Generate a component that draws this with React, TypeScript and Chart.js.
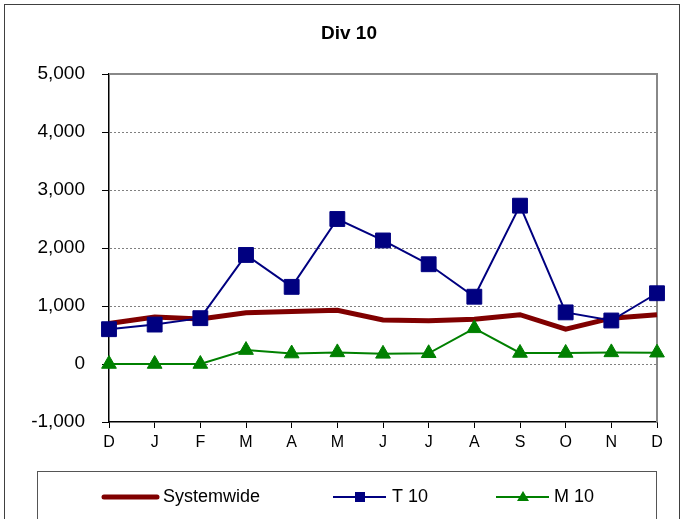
import React, { useEffect, useRef } from "react";
import { Chart, registerables } from "chart.js";

Chart.register(...registerables);

const title = "Div 10";
const months = ["D", "J", "F", "M", "A", "M", "J", "J", "A", "S", "O", "N", "D"];
const systemwide = [700, 810, 775, 885, 905, 925, 760, 745, 770, 850, 600, 790, 850];
const t10 = [600, 680, 790, 1880, 1330, 2500, 2130, 1720, 1160, 2730, 890, 750, 1220];
const m10 = [0, 0, 0, 240, 180, 200, 175, 185, 615, 190, 190, 200, 195];
const yTicks = [-1000, 0, 1000, 2000, 3000, 4000, 5000];
const seriesNames = ["Systemwide", "T 10", "M 10"];

const RED = "#800000";
const NAVY = "#000080";
const GREEN = "#008000";
const FONT = "'Liberation Sans', Arial, sans-serif";

const fmt = (v: number) => {
  const s = Math.abs(v).toString().replace(/\B(?=(\d{3})+(?!\d))/g, ",");
  return (v < 0 ? "-" : "") + s;
};

const framePlugin = {
  id: "frame",
  beforeDraw(chart: any) {
    const ctx = chart.ctx;
    ctx.save();
    ctx.fillStyle = "#fff";
    ctx.fillRect(0, 0, chart.width, chart.height);
    ctx.restore();
  },
  beforeDatasetsDraw(chart: any) {
    const ctx = chart.ctx;
    const { left, right, top, bottom } = chart.chartArea;
    const y = chart.scales.y;
    ctx.save();
    ctx.strokeStyle = "#808080";
    ctx.lineWidth = 1;
    ctx.setLineDash([2, 2]);
    yTicks.forEach((v) => {
      if (v === yTicks[0] || v === yTicks[yTicks.length - 1]) return;
      const py = Math.round(y.getPixelForValue(v)) + 0.5;
      ctx.beginPath();
      ctx.moveTo(left + 1, py);
      ctx.lineTo(right, py);
      ctx.stroke();
    });
    ctx.setLineDash([]);
    ctx.lineWidth = 2;
    ctx.strokeStyle = "#888";
    ctx.beginPath();
    ctx.moveTo(left, top);
    ctx.lineTo(right, top);
    ctx.lineTo(right, bottom);
    ctx.stroke();
    ctx.restore();
  },
  afterDraw(chart: any) {
    const ctx = chart.ctx;
    ctx.save();
    // title
    ctx.fillStyle = "#000";
    ctx.font = `bold 19px ${FONT}`;
    ctx.textAlign = "center";
    ctx.textBaseline = "middle";
    ctx.fillText(title, 349, 34);
    // outer frame
    ctx.strokeStyle = "#404040";
    ctx.lineWidth = 1;
    ctx.strokeRect(4.5, 4.5, 675, 600);
    // legend box
    ctx.strokeStyle = "#555";
    ctx.strokeRect(37.5, 471.5, 619, 100);
    const ly = 497;
    ctx.font = `18px ${FONT}`;
    ctx.textAlign = "left";
    ctx.textBaseline = "middle";
    // Systemwide
    ctx.strokeStyle = RED;
    ctx.lineWidth = 5;
    ctx.lineCap = "round";
    ctx.beginPath();
    ctx.moveTo(104, ly);
    ctx.lineTo(157, ly);
    ctx.stroke();
    ctx.fillStyle = "#000";
    ctx.fillText(seriesNames[0], 163, ly);
    // T 10
    ctx.lineCap = "butt";
    ctx.strokeStyle = NAVY;
    ctx.lineWidth = 2;
    ctx.beginPath();
    ctx.moveTo(333, ly);
    ctx.lineTo(386, ly);
    ctx.stroke();
    ctx.fillStyle = NAVY;
    ctx.fillRect(355, ly - 5, 10, 10);
    ctx.fillStyle = "#000";
    ctx.fillText(seriesNames[1], 392, ly);
    // M 10
    ctx.strokeStyle = GREEN;
    ctx.beginPath();
    ctx.moveTo(496, ly);
    ctx.lineTo(549, ly);
    ctx.stroke();
    ctx.fillStyle = GREEN;
    ctx.beginPath();
    ctx.moveTo(523, ly - 6);
    ctx.lineTo(529, ly + 4);
    ctx.lineTo(517, ly + 4);
    ctx.closePath();
    ctx.fill();
    ctx.fillStyle = "#000";
    ctx.fillText(seriesNames[2], 554, ly);
    ctx.restore();
  },
};

export default function App() {
  const ref = useRef<HTMLCanvasElement>(null);
  useEffect(() => {
    document.body.style.margin = "0";
    const chart = new Chart(ref.current as HTMLCanvasElement, {
      type: "line",
      data: {
        labels: months,
        datasets: [
          {
            label: seriesNames[0],
            data: systemwide,
            borderColor: RED,
            backgroundColor: RED,
            borderWidth: 5,
            pointRadius: 0,
            tension: 0,
            order: 2,
            clip: false as any,
          },
          {
            label: seriesNames[1],
            data: t10,
            borderColor: NAVY,
            backgroundColor: NAVY,
            borderWidth: 2,
            pointStyle: "rect",
            pointRadius: 10.5,
            pointBorderWidth: 1,
            pointBorderColor: NAVY,
            pointBackgroundColor: NAVY,
            tension: 0,
            order: 0,
            clip: false as any,
          },
          {
            label: seriesNames[2],
            data: m10,
            borderColor: GREEN,
            backgroundColor: GREEN,
            borderWidth: 2,
            pointStyle: "triangle",
            pointRadius: 8.5,
            pointBorderWidth: 1,
            pointBorderColor: GREEN,
            pointBackgroundColor: GREEN,
            tension: 0,
            order: 1,
            clip: false as any,
          },
        ],
      },
      options: {
        responsive: false,
        animation: false,
        devicePixelRatio: 1,
        layout: {
          autoPadding: false,
          padding: { top: 74, right: 26, bottom: 67, left: 0 },
        } as any,
        plugins: {
          legend: { display: false },
          title: { display: false },
          tooltip: { enabled: false },
        },
        scales: {
          x: {
            type: "category",
            offset: false,
            grid: {
              display: true,
              drawOnChartArea: false,
              drawTicks: true,
              tickLength: 6,
              tickColor: "#000",
              tickWidth: 1,
            },
            border: { display: true, color: "#000", width: 1.5 },
            ticks: {
              color: "#000",
              font: { family: FONT, size: 16 },
              padding: 5,
              maxRotation: 0,
              autoSkip: false,
            },
            afterFit(scale: any) {
              scale.height = 30;
            },
          },
          y: {
            min: -1000,
            max: 5000,
            grid: {
              display: true,
              drawOnChartArea: false,
              drawTicks: true,
              tickLength: 7,
              tickColor: "#000",
              tickWidth: 1,
            },
            border: { display: true, color: "#000", width: 1.5 },
            ticks: {
              stepSize: 1000,
              color: "#000",
              font: { family: FONT, size: 19 },
              padding: 17,
              callback: (v: any) => fmt(Number(v)),
            },
            afterFit(scale: any) {
              scale.width = 109;
            },
          },
        },
      },
      plugins: [framePlugin],
    });
    return () => chart.destroy();
  }, []);
  return (
    <div style={{ position: "absolute", left: 0, top: 0, width: 683, height: 519 }}>
      <canvas ref={ref} width={683} height={519} style={{ display: "block" }} />
    </div>
  );
}
